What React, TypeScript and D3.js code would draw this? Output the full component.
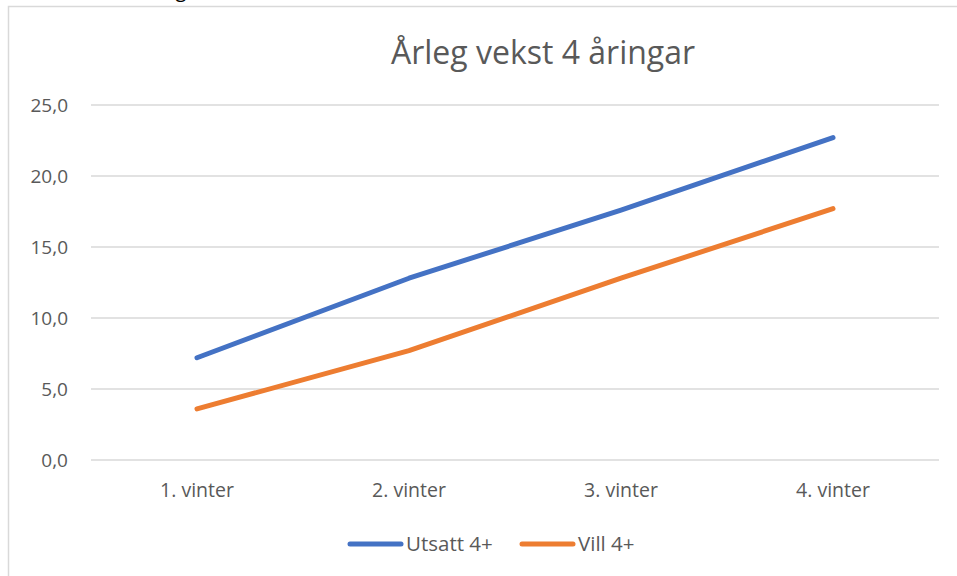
import * as d3 from 'd3'

const categories = ['1. vinter', '2. vinter', '3. vinter', '4. vinter']
const utsatt = [7.2, 12.8, 17.6, 22.7]
const vill = [3.6, 7.7, 12.8, 17.7]
const yTicks = [0, 5, 10, 15, 20, 25]
const seriesNames = ['Utsatt 4+', 'Vill 4+']
const colors = ['#4472C4', '#ED7D31']

const W = 957
const H = 576
const font = "'Open Sans', 'Noto Sans', sans-serif"

const App: React.FC = () => {
  const x = d3.scaleBand<string>().domain(categories).range([91, 939])
  const y = d3.scaleLinear().domain([0, 25]).range([460, 105])
  const line = d3
    .line<number>()
    .x((_d, i) => (x(categories[i]) as number) + x.bandwidth() / 2)
    .y((d) => y(d))
  const fmt = (v: number) => v.toFixed(1).replace('.', ',')
  const series = [utsatt, vill]
  // legend positions
  const legendX = [347, 519]
  return (
    <div style={{ position: 'absolute', left: 0, top: 0 }}>
      <svg width={W} height={H} style={{ display: 'block', background: '#fff' }}>
        <rect x={8.5} y={6.5} width={1100} height={700} fill="#fff" stroke="#d9d9d9" strokeWidth={1.5} />
        {/* descender of text above chart, cut off as in the source */}
        <text x={181} y={-3} fontFamily={font} fontSize={20} fill="#000" textAnchor="middle">
          g
        </text>
        <text x={543} y={64} textAnchor="middle" fontFamily={font} fontSize={32} fill="#595959">
          Årleg vekst 4 åringar
        </text>
        {yTicks.map((t) => (
          <g key={t}>
            <line x1={91} x2={939} y1={y(t)} y2={y(t)} stroke="#d9d9d9" strokeWidth={1.3} />
            <text x={68} y={y(t)} dy="0.35em" textAnchor="end" fontFamily={font} fontSize={19} fill="#595959">
              {fmt(t)}
            </text>
          </g>
        ))}
        {categories.map((c) => (
          <text
            key={c}
            x={(x(c) as number) + x.bandwidth() / 2}
            y={490}
            dy="0.35em"
            textAnchor="middle"
            fontFamily={font}
            fontSize={19.5}
            fill="#595959"
          >
            {c}
          </text>
        ))}
        {series.map((s, i) => (
          <path
            key={i}
            d={line(s) || undefined}
            fill="none"
            stroke={colors[i]}
            strokeWidth={5}
            strokeLinecap="round"
            strokeLinejoin="round"
          />
        ))}
        {seriesNames.map((n, i) => (
          <g key={n}>
            <line
              x1={legendX[i] + 3}
              x2={legendX[i] + 54}
              y1={544}
              y2={544}
              stroke={colors[i]}
              strokeWidth={5}
              strokeLinecap="round"
            />
            <text x={legendX[i] + 59} y={544} dy="0.35em" fontFamily={font} fontSize={20.5} fill="#595959">
              {n}
            </text>
          </g>
        ))}
      </svg>
    </div>
  )
}

export default App
